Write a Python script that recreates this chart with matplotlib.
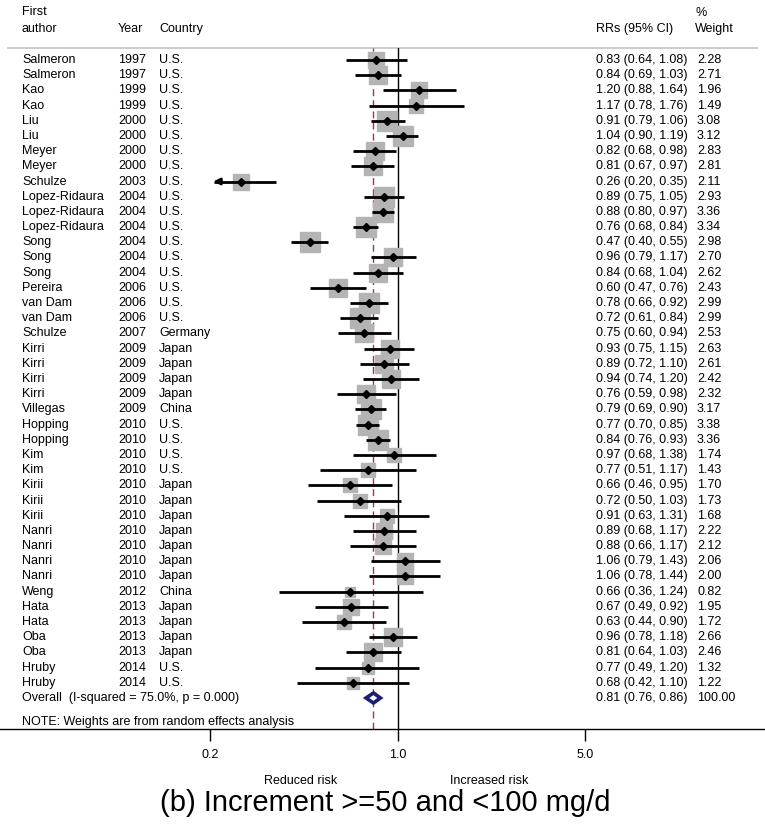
import numpy as np
import matplotlib
matplotlib.use("Agg")
import matplotlib.pyplot as plt
from matplotlib.patches import Polygon

plt.rcParams['font.family'] = ['Liberation Sans', 'DejaVu Sans']

authors = ["Salmeron", "Salmeron", "Kao", "Kao", "Liu", "Liu", "Meyer", "Meyer", "Schulze",
           "Lopez-Ridaura", "Lopez-Ridaura", "Lopez-Ridaura", "Song", "Song", "Song", "Pereira",
           "van Dam", "van Dam", "Schulze", "Kirri", "Kirri", "Kirri", "Kirri", "Villegas",
           "Hopping", "Hopping", "Kim", "Kim", "Kirii", "Kirii", "Kirii", "Nanri", "Nanri",
           "Nanri", "Nanri", "Weng", "Hata", "Hata", "Oba", "Oba", "Hruby", "Hruby"]
years = ["1997", "1997", "1999", "1999", "2000", "2000", "2000", "2000", "2003",
         "2004", "2004", "2004", "2004", "2004", "2004", "2006",
         "2006", "2006", "2007", "2009", "2009", "2009", "2009", "2009",
         "2010", "2010", "2010", "2010", "2010", "2010", "2010", "2010", "2010",
         "2010", "2010", "2012", "2013", "2013", "2013", "2013", "2014", "2014"]
countries = ["U.S."] * 18 + ["Germany", "Japan", "Japan", "Japan", "Japan", "China",
             "U.S.", "U.S.", "U.S.", "U.S.", "Japan", "Japan", "Japan", "Japan", "Japan",
             "Japan", "Japan", "China", "Japan", "Japan", "Japan", "Japan", "U.S.", "U.S."]
rr = [0.83, 0.84, 1.20, 1.17, 0.91, 1.04, 0.82, 0.81, 0.26, 0.89, 0.88, 0.76, 0.47, 0.96,
      0.84, 0.60, 0.78, 0.72, 0.75, 0.93, 0.89, 0.94, 0.76, 0.79, 0.77, 0.84, 0.97, 0.77,
      0.66, 0.72, 0.91, 0.89, 0.88, 1.06, 1.06, 0.66, 0.67, 0.63, 0.96, 0.81, 0.77, 0.68]
lo = [0.64, 0.69, 0.88, 0.78, 0.79, 0.90, 0.68, 0.67, 0.20, 0.75, 0.80, 0.68, 0.40, 0.79,
      0.68, 0.47, 0.66, 0.61, 0.60, 0.75, 0.72, 0.74, 0.59, 0.69, 0.70, 0.76, 0.68, 0.51,
      0.46, 0.50, 0.63, 0.68, 0.66, 0.79, 0.78, 0.36, 0.49, 0.44, 0.78, 0.64, 0.49, 0.42]
hi = [1.08, 1.03, 1.64, 1.76, 1.06, 1.19, 0.98, 0.97, 0.35, 1.05, 0.97, 0.84, 0.55, 1.17,
      1.04, 0.76, 0.92, 0.84, 0.94, 1.15, 1.10, 1.20, 0.98, 0.90, 0.85, 0.93, 1.38, 1.17,
      0.95, 1.03, 1.31, 1.17, 1.17, 1.43, 1.44, 1.24, 0.92, 0.90, 1.18, 1.03, 1.20, 1.10]
weights = [2.28, 2.71, 1.96, 1.49, 3.08, 3.12, 2.83, 2.81, 2.11, 2.93, 3.36, 3.34, 2.98, 2.70,
           2.62, 2.43, 2.99, 2.99, 2.53, 2.63, 2.61, 2.42, 2.32, 3.17, 3.38, 3.36, 1.74, 1.43,
           1.70, 1.73, 1.68, 2.22, 2.12, 2.06, 2.00, 0.82, 1.95, 1.72, 2.66, 2.46, 1.32, 1.22]
overall_rr, overall_lo, overall_hi = 0.81, 0.76, 0.86
overall_label = "Overall  (I-squared = 75.0%, p = 0.000)"
xticks = [0.2, 1.0, 5.0]
xticklabels = ["0.2", "1.0", "5.0"]

W, H = 765, 824
fig = plt.figure(figsize=(W / 100, H / 100), dpi=100)
top_px, bot_px = 48, 729
ax = fig.add_axes([0, (H - bot_px) / H, 1, (bot_px - top_px) / H])
row0, dy = 60.0, 15.19
def ydat(px):
    return (px - row0) / dy

ax.set_xscale('log')
ax.set_xlim(0.03284, 23.34)
ax.set_ylim(ydat(bot_px), ydat(top_px))
for s in ['top', 'left', 'right']:
    ax.spines[s].set_visible(False)
ax.spines['bottom'].set_linewidth(1.0)
ax.set_yticks([])
ax.set_xticks(xticks)
ax.set_xticklabels(xticklabels)
ax.minorticks_off()
ax.tick_params(axis='x', direction='out', length=8.6, width=1.0, labelsize=9, pad=6)

tr = ax.get_yaxis_transform()
fs = 9

# header
ax.text(22 / W, ydat(12), "First", transform=tr, fontsize=fs, va='center', clip_on=False)
ax.text(22 / W, ydat(29), "author", transform=tr, fontsize=fs, va='center', clip_on=False)
ax.text(118 / W, ydat(29), "Year", transform=tr, fontsize=fs, va='center', clip_on=False)
ax.text(159 / W, ydat(29), "Country", transform=tr, fontsize=fs, va='center', clip_on=False)
ax.text(596 / W, ydat(29), "RRs (95% CI)", transform=tr, fontsize=fs, va='center', clip_on=False)
ax.text(695 / W, ydat(13), "%", transform=tr, fontsize=fs, va='center', clip_on=False)
ax.text(695 / W, ydat(29), "Weight", transform=tr, fontsize=fs, va='center', clip_on=False)
ax.plot([8 / W, 757 / W], [ydat(top_px) + 0.02] * 2, transform=tr, color='#c8c8c8', lw=1.3,
        clip_on=False)

# reference lines
ax.axvline(1.0, color='black', lw=1.0)
ax.axvline(overall_rr, ymax=1.0, color='#b0303c', lw=1.0, dashes=(5, 3))

xmin_clip = 0.2
for i in range(len(rr)):
    y = i
    ms = 8.1 * np.sqrt(weights[i])
    ax.plot([rr[i]], [y], marker='s', ms=ms, color='#b4b4b4', mec='#b4b4b4', zorder=3)
    if lo[i] <= xmin_clip:
        ax.plot([xmin_clip * 1.03, hi[i]], [y, y], color='black', lw=2.0, zorder=4,
                solid_capstyle='butt')
        ax.annotate('', xy=(xmin_clip, y), xytext=(xmin_clip * 1.12, y),
                    arrowprops=dict(arrowstyle='-|>', color='black', lw=2.0,
                                    mutation_scale=9), zorder=4)
    else:
        ax.plot([lo[i], hi[i]], [y, y], color='black', lw=2.0, zorder=4,
                solid_capstyle='butt')
    ax.plot([rr[i]], [y], marker='D', ms=4.5, color='black', zorder=5)
    ax.text(22 / W, y, authors[i], transform=tr, fontsize=fs, va='center')
    ax.text(118 / W, y, years[i], transform=tr, fontsize=fs, va='center')
    ax.text(159 / W, y, countries[i], transform=tr, fontsize=fs, va='center')
    ax.text(596 / W, y, f"{rr[i]:.2f} ({lo[i]:.2f}, {hi[i]:.2f})", transform=tr,
            fontsize=fs, va='center')
    ax.text(697 / W, y, f"{weights[i]:.2f}", transform=tr, fontsize=fs, va='center')

# overall
yo = len(rr)
hh = 0.33
diamond = Polygon([(overall_lo, yo), (overall_rr, yo - hh), (overall_hi, yo), (overall_rr, yo + hh)],
                  closed=True, facecolor='white', edgecolor='#1c1c7c', lw=2.6, zorder=6)
ax.add_patch(diamond)
ax.text(22 / W, yo, overall_label, transform=tr, fontsize=fs, va='center')
ax.text(596 / W, yo, f"{overall_rr:.2f} ({overall_lo:.2f}, {overall_hi:.2f})", transform=tr,
        fontsize=fs, va='center')
ax.text(697 / W, yo, "100.00", transform=tr, fontsize=fs, va='center')
ax.text(22 / W, ydat(722), "NOTE: Weights are from random effects analysis", transform=tr,
        fontsize=fs, va='center')

fig.text(301 / W, 1 - 781 / H, "Reduced risk", ha='center', va='center', fontsize=9)
fig.text(489 / W, 1 - 781 / H, "Increased risk", ha='center', va='center', fontsize=9)
fig.text(385 / W, 1 - 803 / H, "(b) Increment >=50 and <100 mg/d", ha='center', va='center',
         fontsize=21)

fig.savefig("out.png", dpi=100, facecolor='white')
